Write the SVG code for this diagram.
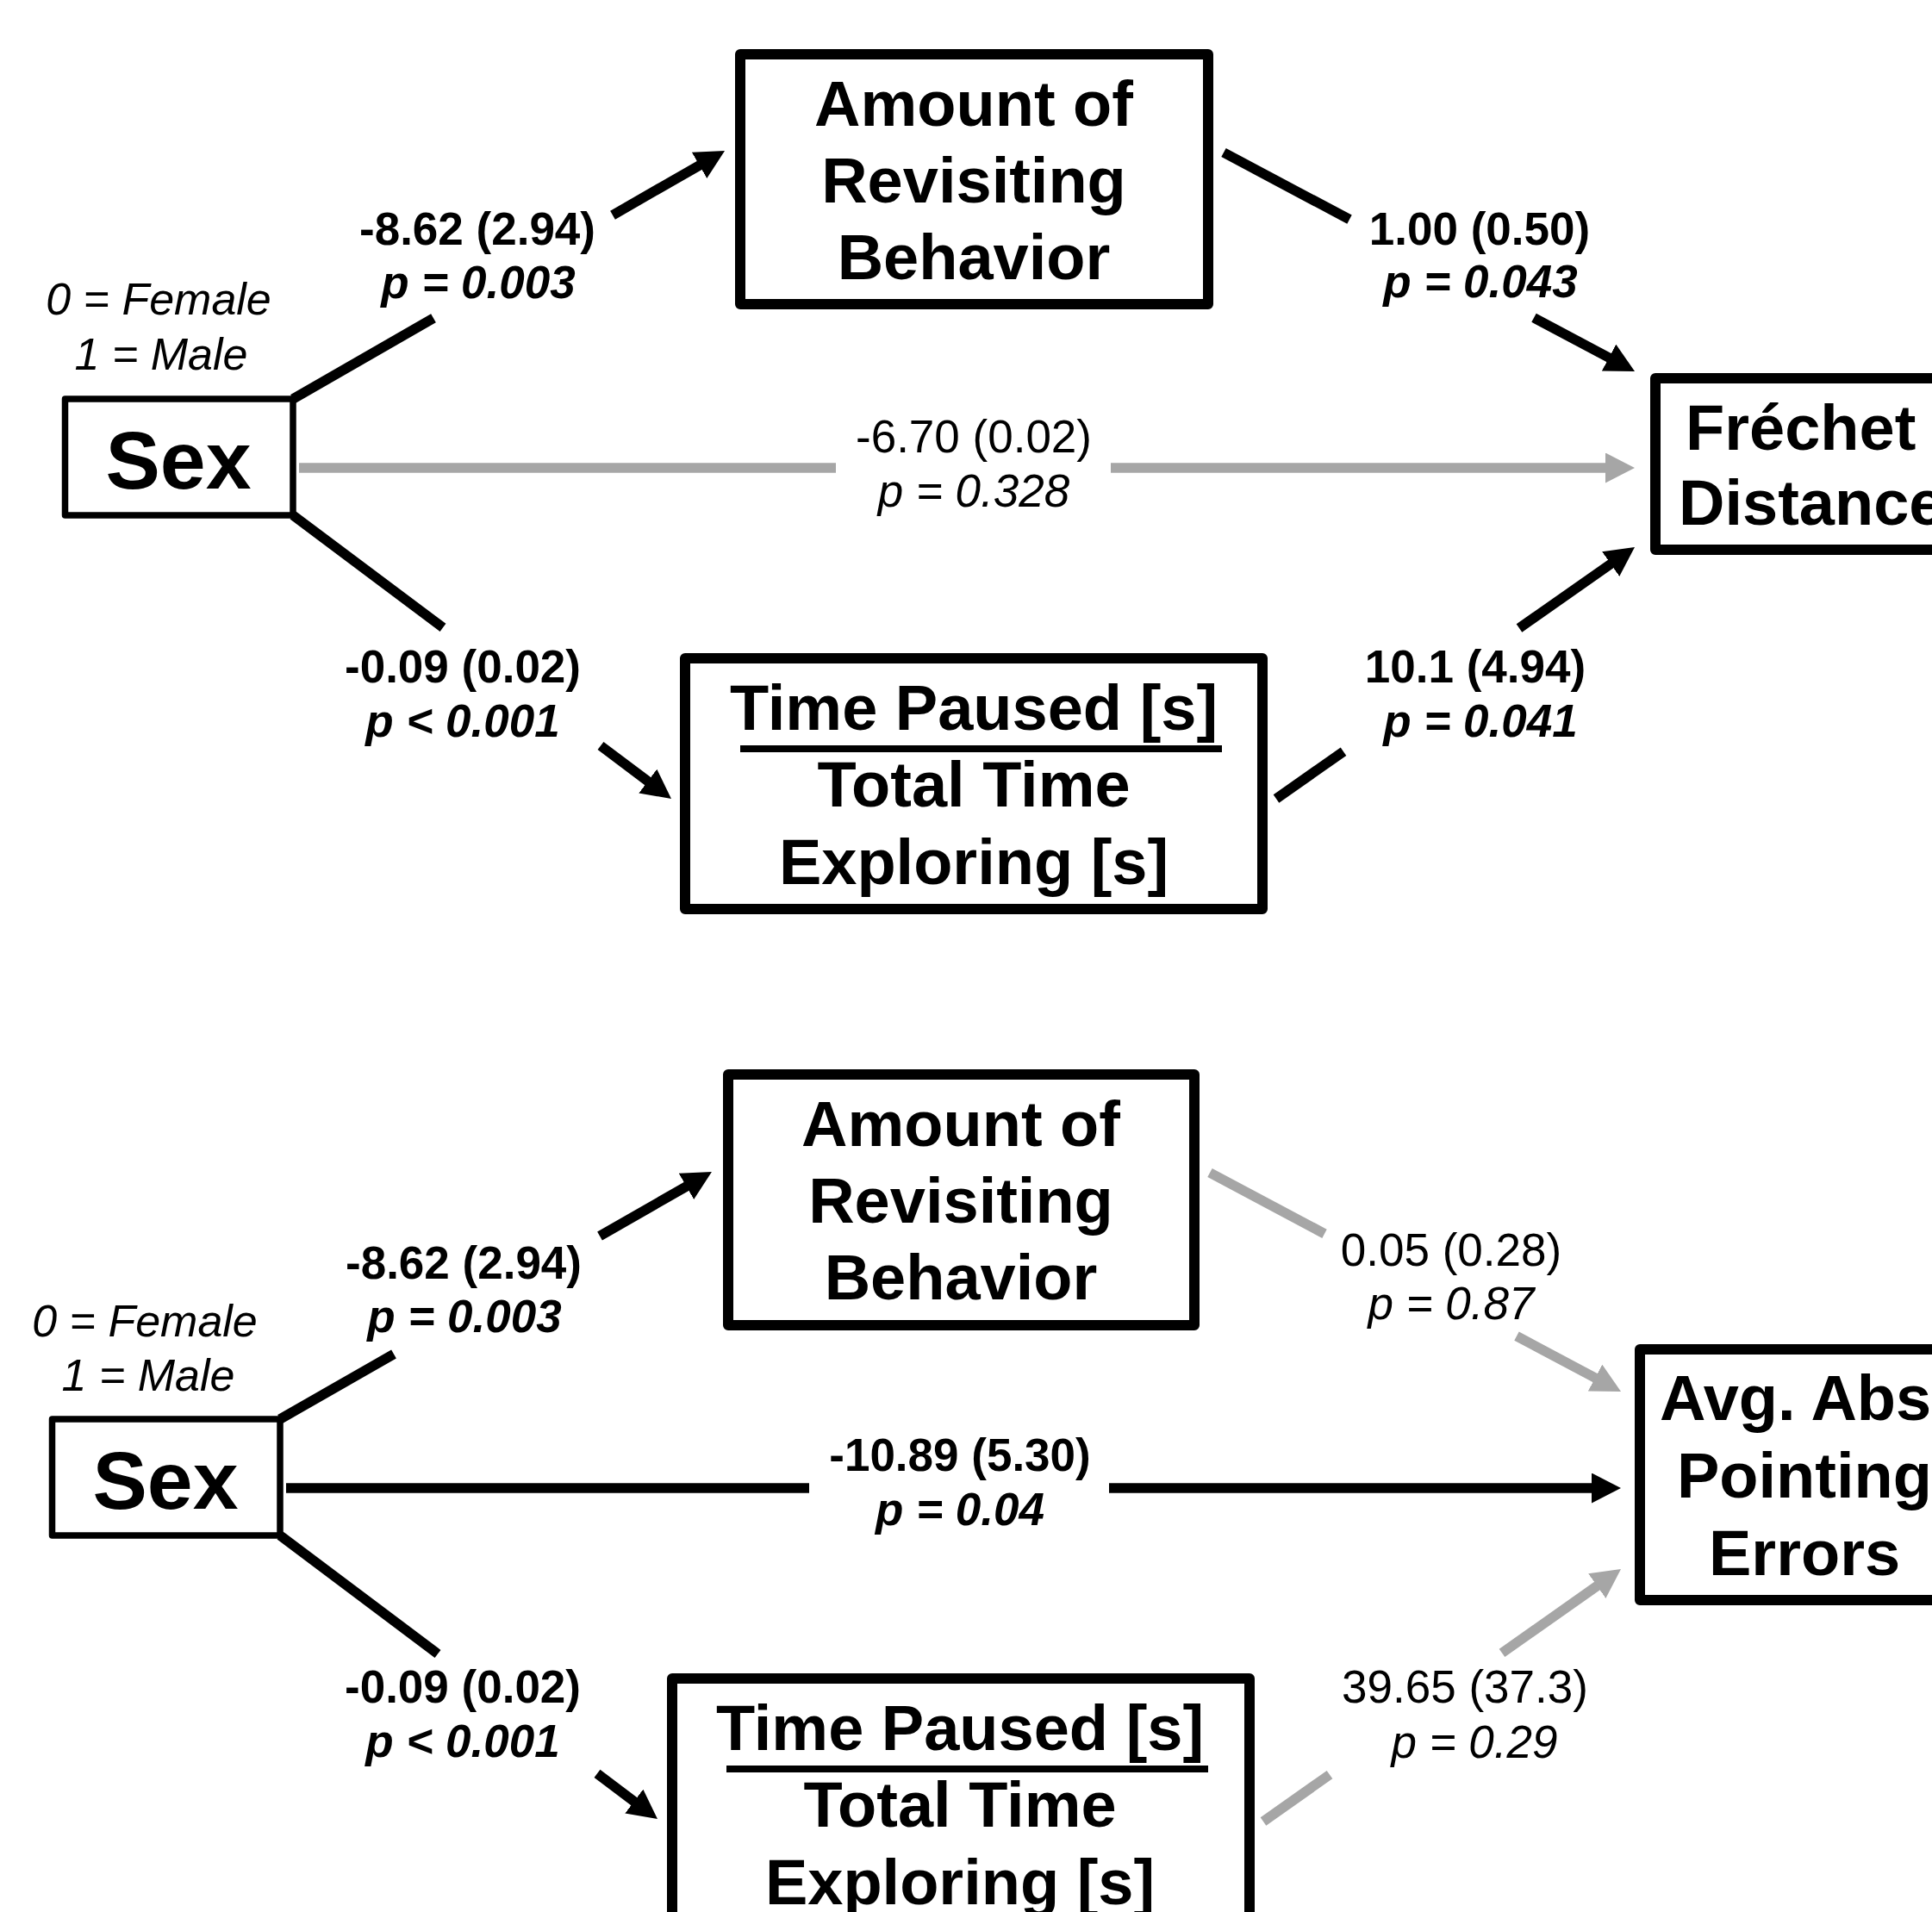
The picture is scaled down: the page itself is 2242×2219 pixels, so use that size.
<svg xmlns="http://www.w3.org/2000/svg" width="2242" height="2219" viewBox="0 0 2242 2219">
<style>
.box{fill:#fff;stroke:#000;stroke-width:12;stroke-linejoin:round}
.sexbox{stroke-width:7.5}
.t{font-family:"Liberation Sans",Arial,Helvetica,sans-serif;font-weight:bold;font-size:74px;fill:#000}
.c{text-anchor:middle}
.sex{font-size:95px}
.lbl{font-family:"Liberation Sans",Arial,Helvetica,sans-serif;font-size:53px;text-anchor:middle;fill:#000}
.b{font-weight:bold}
.i{font-style:italic}
.g{fill:#000}
.code{font-family:"Liberation Sans",Arial,Helvetica,sans-serif;font-size:52px;font-style:italic;text-anchor:middle;fill:#000}
.cb{stroke:#000;stroke-width:11.5;fill:none}
.cg{stroke:#a6a6a6;stroke-width:11.5;fill:none}
.ul{stroke:#000;stroke-width:8}
</style>
<defs>
<marker id="ahb" markerUnits="userSpaceOnUse" markerWidth="36" markerHeight="36" viewBox="0 0 36 36" refX="2" refY="17.5" orient="auto"><path d="M0,0 L34,17.5 L0,35 z" fill="#000"/></marker>
<marker id="ahg" markerUnits="userSpaceOnUse" markerWidth="36" markerHeight="36" viewBox="0 0 36 36" refX="2" refY="17.5" orient="auto"><path d="M0,0 L34,17.5 L0,35 z" fill="#a6a6a6"/></marker>
</defs>
<rect width="2242" height="2219" fill="#fff"/>

<g id="connectors">
  <!-- top panel -->
  <line class="cb" x1="340" y1="463" x2="503" y2="369.3"/>
  <line class="cb" x1="711" y1="249.7" x2="813.3" y2="190.9" marker-end="url(#ahb)"/>
  <line class="cb" x1="340" y1="598" x2="514" y2="728.4"/>
  <line class="cb" x1="697" y1="865.5" x2="753.4" y2="907.8" marker-end="url(#ahb)"/>
  <line class="cb" x1="1420" y1="177" x2="1566" y2="254.7"/>
  <line class="cb" x1="1780" y1="368.7" x2="1868.8" y2="416" marker-end="url(#ahb)"/>
  <line class="cb" x1="1481" y1="927" x2="1559" y2="872.2"/>
  <line class="cb" x1="1763" y1="729" x2="1870.8" y2="653.4" marker-end="url(#ahb)"/>
  <line class="cg" x1="347" y1="543" x2="970" y2="543"/>
  <line class="cg" x1="1289" y1="543" x2="1865" y2="543" marker-end="url(#ahg)"/>
  <!-- bottom panel -->
  <line class="cb" x1="325" y1="1647" x2="457" y2="1571.4"/>
  <line class="cb" x1="696" y1="1434.5" x2="798.2" y2="1375.9" marker-end="url(#ahb)"/>
  <line class="cb" x1="325" y1="1782" x2="508" y2="1919.5"/>
  <line class="cb" x1="693" y1="2058.4" x2="737.4" y2="2091.8" marker-end="url(#ahb)"/>
  <line class="cg" x1="1404" y1="1361" x2="1537" y2="1431.8"/>
  <line class="cg" x1="1760" y1="1550.6" x2="1852.8" y2="1600" marker-end="url(#ahg)"/>
  <line class="cg" x1="1466" y1="2114" x2="1543" y2="2059.6"/>
  <line class="cg" x1="1743" y1="1918.4" x2="1854.9" y2="1839.5" marker-end="url(#ahg)"/>
  <line class="cb" x1="332" y1="1727" x2="939" y2="1727"/>
  <line class="cb" x1="1287" y1="1727" x2="1849" y2="1727" marker-end="url(#ahb)"/>
</g>

<g id="edge-labels">
  <text class="lbl b" x="554" y="284">-8.62 (2.94)</text>
  <text class="lbl b i" x="555" y="346">p = 0.003</text>
  <text class="lbl b" x="1717" y="284">1.00 (0.50)</text>
  <text class="lbl b i" x="1718" y="345">p = 0.043</text>
  <text class="lbl" x="1130" y="525">-6.70 (0.02)</text>
  <text class="lbl i" x="1130" y="588">p = 0.328</text>
  <text class="lbl b" x="537" y="792">-0.09 (0.02)</text>
  <text class="lbl b i" x="537" y="855">p &lt; 0.001</text>
  <text class="lbl b" x="1712" y="792">10.1 (4.94)</text>
  <text class="lbl b i" x="1718" y="855">p = 0.041</text>

  <text class="lbl b" x="538" y="1484">-8.62 (2.94)</text>
  <text class="lbl b i" x="539" y="1546">p = 0.003</text>
  <text class="lbl" x="1684" y="1469">0.05 (0.28)</text>
  <text class="lbl i" x="1684" y="1531">p = 0.87</text>
  <text class="lbl b" x="1114" y="1707">-10.89 (5.30)</text>
  <text class="lbl b i" x="1114" y="1770">p = 0.04</text>
  <text class="lbl b" x="537" y="1976">-0.09 (0.02)</text>
  <text class="lbl b i" x="537" y="2039">p &lt; 0.001</text>
  <text class="lbl" x="1700" y="1976">39.65 (37.3)</text>
  <text class="lbl i" x="1711" y="2040">p = 0.29</text>
</g>

<!-- top panel nodes -->
<g id="sex-top">
  <text class="code" x="184" y="365">0 = Female</text>
  <text class="code" x="187" y="429">1 = Male</text>
  <rect class="box sexbox" x="75.5" y="463" width="264.5" height="135"/>
  <text class="t c sex" x="207" y="567">Sex</text>
</g>
<g id="revisit-top">
  <rect class="box" x="859" y="63" width="543" height="290"/>
  <text class="t c" x="1130" y="146">Amount of</text>
  <text class="t c" x="1130" y="235">Revisiting</text>
  <text class="t c" x="1130" y="324">Behavior</text>
</g>
<g id="paused-top">
  <rect class="box" x="795" y="764" width="670" height="291"/>
  <text class="t c" x="1130" y="847">Time Paused [s]</text>
  <line class="ul" x1="859" y1="869" x2="1418" y2="869"/>
  <text class="t c" x="1130" y="936">Total Time</text>
  <text class="t c" x="1130" y="1026">Exploring [s]</text>
</g>
<g id="frechet">
  <rect class="box" x="1921" y="439" width="360" height="199"/>
  <text class="t" x="1956" y="522">Fréchet</text>
  <text class="t" x="1948" y="609">Distance</text>
</g>

<!-- bottom panel nodes -->
<g id="sex-bottom">
  <text class="code" x="168" y="1551">0 = Female</text>
  <text class="code" x="172" y="1614">1 = Male</text>
  <rect class="box sexbox" x="60.5" y="1647" width="264.5" height="135"/>
  <text class="t c sex" x="192" y="1751">Sex</text>
</g>
<g id="revisit-bottom">
  <rect class="box" x="845" y="1247" width="541" height="291"/>
  <text class="t c" x="1115" y="1330">Amount of</text>
  <text class="t c" x="1115" y="1419">Revisiting</text>
  <text class="t c" x="1115" y="1508">Behavior</text>
</g>
<g id="paused-bottom">
  <rect class="box" x="780" y="1948" width="670" height="291"/>
  <text class="t c" x="1114" y="2031">Time Paused [s]</text>
  <line class="ul" x1="843" y1="2053" x2="1402" y2="2053"/>
  <text class="t c" x="1114" y="2120">Total Time</text>
  <text class="t c" x="1114" y="2210">Exploring [s]</text>
</g>
<g id="pointing-errors">
  <rect class="box" x="1903" y="1566" width="400" height="291"/>
  <text class="t" x="1926" y="1648">Avg. Abs</text>
  <text class="t" x="1946" y="1738">Pointing</text>
  <text class="t" x="1983" y="1828">Errors</text>
</g>
</svg>
